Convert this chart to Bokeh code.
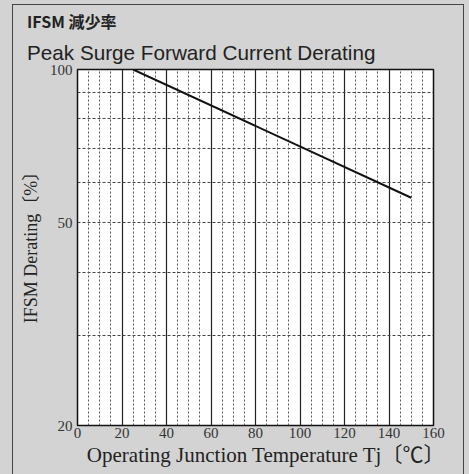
from bokeh.plotting import figure
from bokeh.models import Range1d, FixedTicker, Grid, Title, CustomJSTickFormatter
from bokeh.embed import file_html
from bokeh.resources import INLINE

# ---- data ----
temps = [25, 150]            # Tj (°C)
derating = [100, 56]         # IFSM derating (%)
x_ticks = [0, 20, 40, 60, 80, 100, 120, 140, 160]
y_ticks = [20, 50, 100]
y_minor = [30, 40, 50, 60, 70, 80, 90]
x_major_grid = [20, 40, 60, 80, 100, 120, 140]
x_minor_grid = [v for v in range(5, 160, 5) if v % 20 != 0]

title_1 = "IFSM 減少率"
title_2 = "Peak Surge Forward Current Derating"
xlabel = "Operating Junction Temperature  Tj〔℃〕"
ylabel = "IFSM  Derating〔%〕"

GRAY = "#d3d3d3"
SERIF = "Liberation Serif, Noto Sans CJK JP"
NBSP = "\u00a0"

p = figure(width=469, height=474, y_axis_type="log",
           x_range=Range1d(0, 160), y_range=Range1d(20, 100),
           output_backend="svg", toolbar_location=None,
           min_border_left=77, min_border_right=36,
           min_border_top=69, min_border_bottom=49)
p.title = None
p.border_fill_alpha = 0
p.background_fill_color = "white"
p.outline_line_color = "#111111"
p.outline_line_width = 1.5

# titles: the first one added sits closest to the plot
t2 = Title(text=title_2, align="left", offset=-50.5, text_font="Liberation Sans",
           text_font_size="20.7px", text_font_style="normal", text_color="#222222",
           standoff=11.5)
t1 = Title(text=title_1, align="left", offset=-50.5, text_font="Noto Sans CJK JP",
           text_font_size="16px", text_font_style="bold", text_color="#222222",
           standoff=0)
p.add_layout(t2, "above")
p.add_layout(t1, "above")

# axes
p.xaxis.ticker = FixedTicker(ticks=x_ticks)
p.yaxis.ticker = FixedTicker(ticks=y_ticks, minor_ticks=[])
for ax in (p.xaxis[0], p.yaxis[0]):
    ax.axis_line_color = None
    ax.major_tick_line_color = None
    ax.minor_tick_line_color = None
    ax.major_tick_out = 0
    ax.major_tick_in = 0
    ax.minor_tick_out = 0
    ax.major_label_text_font = "Liberation Serif"
    ax.major_label_text_font_size = "15px"
    ax.major_label_text_color = "#333333"
    ax.axis_label_text_font = SERIF
    ax.axis_label_text_font_style = "normal"
    ax.axis_label_text_color = "#222222"
p.xaxis.major_label_standoff = 2
p.yaxis.major_label_standoff = 5
p.yaxis.formatter = CustomJSTickFormatter(code="return String(tick)")
p.xaxis.axis_label = NBSP * 5 + xlabel
p.xaxis.axis_label_text_font_size = "21px"
p.xaxis.axis_label_standoff = 2
p.yaxis.axis_label = NBSP * 3 + ylabel
p.yaxis.axis_label_text_font_size = "18px"
p.yaxis.axis_label_standoff = 6

# grids
p.xgrid.ticker = FixedTicker(ticks=x_major_grid)
p.xgrid.grid_line_color = "#222222"
p.xgrid.grid_line_width = 1.2
p.ygrid.ticker = FixedTicker(ticks=y_minor, minor_ticks=[])
p.ygrid.grid_line_color = "#444444"
p.ygrid.grid_line_dash = "3 2"
p.ygrid.grid_line_width = 1
g2 = Grid(dimension=0, ticker=FixedTicker(ticks=x_minor_grid),
          grid_line_color="#555555", grid_line_dash="2 2", grid_line_width=1)
p.add_layout(g2)

# curve
p.line(temps, derating, line_color="#111111", line_width=2)

html = file_html(p, INLINE)
style = ("<style>html{background:%s;}"
         "body::before{content:'';position:absolute;left:12px;top:4px;width:450px;"
         "height:520px;border:1.5px solid #444;border-bottom:none;z-index:-1;}</style>" % GRAY)
html = html.replace("</head>", style + "</head>", 1)
open("out.html", "w").write(html)
